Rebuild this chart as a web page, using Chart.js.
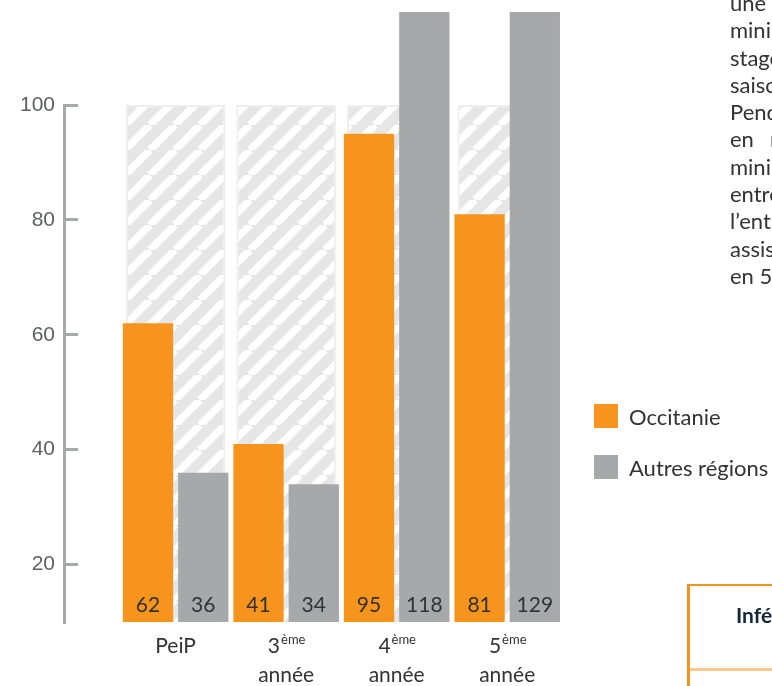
<!DOCTYPE html>
<html lang="fr">
<head>
<meta charset="utf-8">
<script src="https://cdn.jsdelivr.net/npm/chart.js@4"></script>
<style>
  html, body { margin: 0; padding: 0; background: #fff; }
  body { width: 772px; height: 686px; position: relative; overflow: hidden; font-family: Lato, sans-serif; color: #333; }
  #wrap { position: absolute; left: 0; top: 0; width: 772px; height: 686px; }
  #legend { position: absolute; left: 594px; top: 404px; }
  #legend .item { display: flex; align-items: center; height: 24px; margin-bottom: 27px; font-size: 22px; white-space: nowrap; }
  #legend .sw { width: 24px; height: 24px; margin-right: 11px; }
  #para { position: absolute; left: 730px; top: -11px; font-size: 22px; line-height: 27.3px; white-space: nowrap; color: #333; }
  #tbl { position: absolute; left: 687px; top: 584px; width: 200px; height: 120px; border-left: 3px solid #f7941d; border-top: 2px solid #f7941d; }
  #tbl .hd { position: absolute; left: 46px; top: 16px; font-weight: bold; font-size: 21px; color: #13263a; white-space: nowrap; }
  #tbl .sep { position: absolute; left: 0; top: 82px; width: 100%; height: 3px; background: #fcc88a; }
</style>
</head>
<body>
<div id="wrap"><canvas id="chart"></canvas></div>
<div id="legend"></div>
<div id="para">
  <div>une</div>
  <div>minimum</div>
  <div>stage</div>
  <div>saison</div>
  <div>Pendant</div>
  <div>en<span style="margin-left:16px">mission</span></div>
  <div>minimum</div>
  <div>entre</div>
  <div>l’entreprise</div>
  <div>assistant</div>
  <div>en 5ème</div>
</div>
<div id="tbl"><div class="hd">Inférieur</div><div class="sep"></div></div>
<script>
const categories = ["PeiP", "3ème année", "4ème année", "5ème année"];
const occitanie = [62, 41, 95, 81];
const autresRegions = [36, 34, 118, 129];
const fullScale = [100, 100, 100, 100];
const yTicks = [20, 40, 60, 80, 100];
const seriesNames = ["Occitanie", "Autres régions"];
const seriesColors = ["#f7941d", "#a6a8a9"];

document.addEventListener("DOMContentLoaded", function () {

    // legend
    const legend = document.getElementById("legend");
    seriesNames.forEach((name, i) => {
        const item = document.createElement("div");
        item.className = "item";
        item.innerHTML = '<span class="sw" style="background:' + seriesColors[i] + '"></span>' + name;
        legend.appendChild(item);
    });

    // hatched background for the 100 % bars
    const tile = document.createElement("canvas");
    tile.width = 25;
    tile.height = 25;
    const g = tile.getContext("2d");
    g.fillStyle = "#e6e6e6";
    g.fillRect(0, 0, 25, 25);
    g.strokeStyle = "#ffffff";
    g.lineWidth = 7.5;
    [-25, 0, 25].forEach(k => {
        g.beginPath();
        g.moveTo(k, 25);
        g.lineTo(k + 25, 0);
        g.stroke();
    });
    const hatch = g.createPattern(tile, "repeat");

    const toPoints = arr => arr.map((v, i) => ({ x: i, y: v }));
    const barClip = { left: 0, top: 93, right: 0, bottom: 0 };

    const labelsPlugin = {
        id: "labelsPlugin",
        afterDatasetsDraw(chart) {
            const ctx = chart.ctx;
            const bottom = chart.chartArea.bottom;
            ctx.save();
            ctx.fillStyle = "#333";
            ctx.textBaseline = "alphabetic";
            ctx.textAlign = "center";
            ctx.font = "21px Lato";
            [occitanie, autresRegions].forEach((vals, d) => {
                chart.getDatasetMeta(d).data.forEach((bar, i) => {
                    ctx.fillText(String(vals[i]), bar.x, bottom - 10);
                });
            });
            const xs = chart.scales.x;
            categories.forEach((cat, i) => {
                const cx = xs.getPixelForValue(i);
                const m = cat.match(/^(\d)(ème) (.+)$/);
                ctx.textAlign = "center";
                ctx.font = "21px Lato";
                if (!m) {
                    ctx.fillText(cat, cx, bottom + 31);
                    return;
                }
                const w1 = ctx.measureText(m[1]).width;
                ctx.font = "13px Lato";
                const w2 = ctx.measureText(m[2]).width;
                const left = cx - (w1 + w2) / 2;
                ctx.textAlign = "left";
                ctx.font = "21px Lato";
                ctx.fillText(m[1], left, bottom + 31);
                ctx.font = "13px Lato";
                ctx.fillText(m[2], left + w1 + 1, bottom + 22);
                ctx.textAlign = "center";
                ctx.font = "21px Lato";
                ctx.fillText(m[3], cx, bottom + 60);
            });
            ctx.restore();
        }
    };

    new Chart(document.getElementById("chart"), {
        type: "bar",
        data: {
            datasets: [{
                label: seriesNames[0],
                data: toPoints(occitanie),
                backgroundColor: seriesColors[0],
                categoryPercentage: 1,
                barPercentage: 0.91,
                clip: barClip
            }, {
                label: seriesNames[1],
                data: toPoints(autresRegions),
                backgroundColor: seriesColors[1],
                categoryPercentage: 1,
                barPercentage: 0.91,
                clip: barClip
            }, {
                label: "100",
                data: toPoints(fullScale),
                backgroundColor: hatch,
                borderColor: "#eeeeee",
                borderWidth: 2,
                grouped: false,
                categoryPercentage: 1,
                barPercentage: 0.9
            }]
        },
        options: {
            responsive: true,
            maintainAspectRatio: false,
            animation: false,
            layout: { padding: { left: 0, top: 105, right: 204, bottom: 64 } },
            plugins: {
                legend: { display: false },
                tooltip: { enabled: false }
            },
            scales: {
                x: {
                    type: "linear",
                    display: false,
                    offset: false,
                    grid: { offset: false },
                    min: -1.01,
                    max: 3.55,
                    afterBuildTicks: s => { s.ticks = categories.map((c, i) => ({ value: i })); }
                },
                y: {
                    min: 10,
                    max: 100,
                    border: { color: "#a6a8a9", width: 3 },
                    grid: { drawOnChartArea: false, drawTicks: true, tickLength: -14, color: "#a6a8a9", lineWidth: 3 },
                    ticks: {
                        padding: 23,
                        color: "#5f6062",
                        font: { family: "Liberation Sans", size: 21 }
                    },
                    afterBuildTicks: s => { s.ticks = yTicks.map(v => ({ value: v })); },
                    afterFit: s => { s.width = 64; }
                }
            }
        },
        plugins: [labelsPlugin]
    });

});
</script>
</body>
</html>
